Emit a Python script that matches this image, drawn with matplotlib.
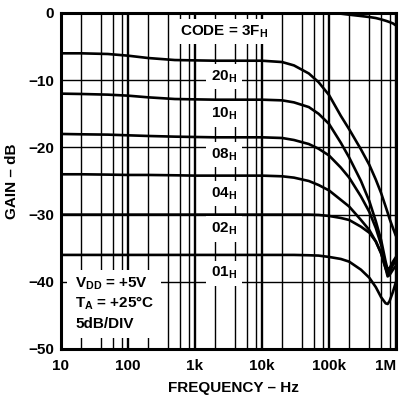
import matplotlib
matplotlib.use("Agg")
import matplotlib.pyplot as plt
from matplotlib.ticker import LogLocator, NullFormatter, FixedLocator
from matplotlib.patches import Rectangle

# ---------------- data ----------------
freq = [10, 20, 50, 100, 200, 500, 1e3, 2e3, 5e3, 1e4, 2e4, 3e4, 5e4, 7e4,
        1e5, 1.5e5, 2e5, 3e5, 4e5, 5e5, 6e5, 7e5, 7.5e5, 8e5, 9e5, 1e6]

gain_3F = [0, 0, 0, 0, 0, 0, 0, 0, 0, 0, 0, 0, 0, 0,
           0, -0.1, -0.25, -0.45, -0.6, -0.75, -0.95, -1.15, -1.25, -1.35, -1.55, -1.85]
gain_20 = [-6.0, -6.0, -6.1, -6.35, -6.7, -7.0, -7.05, -7.1, -7.1, -7.1, -7.3, -7.8, -9.0, -10.3,
           -12.2, -15.3, -17.3, -20.3, -22.6, -24.8, -26.8, -28.8, -29.7, -30.6, -32.0, -33.2]
gain_10 = [-12.0, -12.05, -12.15, -12.3, -12.55, -12.8, -12.85, -12.9, -12.9, -12.9, -13.0, -13.3, -14.0, -15.0,
           -16.5, -19.3, -21.5, -25.0, -28.0, -31.0, -33.8, -37.0, -38.2, -38.0, -37.0, -36.3]
gain_08 = [-18.0, -18.05, -18.1, -18.2, -18.3, -18.4, -18.45, -18.5, -18.5, -18.5, -18.6, -18.9, -19.5, -20.2,
           -21.2, -23.0, -24.5, -27.3, -29.6, -32.0, -34.5, -37.5, -38.5, -38.3, -37.3, -36.6]
gain_04 = [-24.0, -24.0, -24.05, -24.1, -24.1, -24.15, -24.2, -24.2, -24.2, -24.2, -24.3, -24.5, -25.0, -25.6,
           -26.4, -27.8, -28.8, -30.8, -32.3, -34.0, -35.8, -38.0, -38.8, -38.5, -37.5, -36.9]
gain_02 = [-30.0, -30.0, -30.0, -30.0, -30.0, -30.0, -30.0, -30.0, -30.0, -30.0, -30.0, -30.0, -30.0, -30.05,
           -30.2, -30.5, -30.8, -31.8, -32.7, -34.0, -35.7, -38.0, -39.2, -39.0, -38.2, -37.6]
gain_01 = [-36.0, -36.0, -36.0, -36.0, -36.0, -36.0, -36.0, -36.0, -36.0, -36.0, -36.0, -36.0, -36.05, -36.1,
           -36.3, -36.6, -37.0, -38.2, -39.4, -40.8, -42.3, -43.2, -43.3, -42.9, -41.5, -40.0]

series = [gain_3F, gain_20, gain_10, gain_08, gain_04, gain_02, gain_01]
code_labels = ["20", "10", "08", "04", "02", "01"]
code_label_y = [-10.0, -15.6, -21.6, -27.4, -32.7, -39.3]

x_ticks = [10, 100, 1e3, 1e4, 1e5, 1e6]
x_ticklabels = ["10", "100", "1k", "10k", "100k", "1M"]
y_ticks = [-50, -40, -30, -20, -10, 0]
y_ticklabels = ["\u221250", "\u221240", "\u221230", "\u221220", "\u221210", "0"]

# ---------------- style ----------------
FONT = "Liberation Sans"
plt.rcParams["font.family"] = [FONT, "DejaVu Sans"]
plt.rcParams["font.weight"] = "bold"
plt.rcParams["mathtext.fontset"] = "custom"
plt.rcParams["mathtext.rm"] = FONT + ":bold"
plt.rcParams["mathtext.bf"] = FONT + ":bold"
plt.rcParams["mathtext.it"] = FONT + ":bold"
FS = 11

W, H = 406, 397
fig = plt.figure(figsize=(W / 100, H / 100), dpi=100)
L, R, T, B = 61, 396, 13, 349
ax = fig.add_axes([L / W, 1 - B / H, (R - L) / W, (B - T) / H])

ax.set_xscale("log")
ax.set_xlim(10, 1e6)
ax.set_ylim(-50, 0)

# grid
ax.xaxis.set_major_locator(FixedLocator(x_ticks))
ax.xaxis.set_minor_locator(LogLocator(base=10, subs=[2, 4, 6, 8], numticks=20))
ax.xaxis.set_minor_formatter(NullFormatter())
ax.yaxis.set_major_locator(FixedLocator(y_ticks))
ax.grid(True, which="major", axis="x", color="black", lw=1.7, zorder=1)
ax.grid(True, which="minor", axis="x", color="black", lw=1.0, zorder=1)
ax.grid(True, which="major", axis="y", color="black", lw=1.0, zorder=1)
ax.set_axisbelow(True)

ax.set_xticks(x_ticks)
ax.set_xticklabels(x_ticklabels)
ax.set_yticks(y_ticks)
ax.set_yticklabels(y_ticklabels)
ax.tick_params(which="both", length=0)
ax.tick_params(axis="x", pad=7.0, labelsize=FS)
ax.tick_params(axis="y", pad=5.0, labelsize=FS)
for lab in ax.get_xticklabels() + ax.get_yticklabels():
    lab.set_fontweight("bold")
ax.get_xticklabels()[-1].set_horizontalalignment("right")

for s in ax.spines.values():
    s.set_linewidth(2.2)
    s.set_zorder(6)

# curves
for g in series:
    ax.plot(freq, g, color="black", lw=1.9, zorder=3, solid_capstyle="butt")

# labels with white boxes
box = dict(facecolor="white", edgecolor="none", boxstyle="square,pad=0.3")
lab_x = 2700
ax.text(lab_x, -3.3, r"CODE = 3F$_\mathrm{H}$", ha="center", va="baseline",
        fontsize=FS, fontweight="bold", bbox=box, zorder=4)
for c, yv in zip(code_labels, code_label_y):
    ax.text(lab_x, yv, c + r"$_\mathrm{H}$", ha="center", va="baseline",
            fontsize=FS, fontweight="bold", bbox=box, zorder=4)

# conditions box
def fx(px):
    return (px - L) / (R - L)

def fy(py):
    return (B - py) / (B - T)

ax.add_patch(Rectangle((fx(67), fy(338)), fx(161) - fx(67), fy(270) - fy(338),
                       transform=ax.transAxes, facecolor="white", edgecolor="none", zorder=2))
ax.text(fx(75), fy(288), r"V$_\mathrm{DD}$ = +5V", transform=ax.transAxes,
        ha="left", va="baseline", fontsize=FS, fontweight="bold", zorder=4)
ax.text(fx(75), fy(308), r"T$_\mathrm{A}$ = +25°C", transform=ax.transAxes,
        ha="left", va="baseline", fontsize=FS, fontweight="bold", zorder=4)
ax.text(fx(75), fy(328), "5dB/DIV", transform=ax.transAxes,
        ha="left", va="baseline", fontsize=FS, fontweight="bold", zorder=4)

# axis titles
fig.text(233.5 / W, 1 - 392 / H, "FREQUENCY \u2013 Hz", ha="center", va="baseline",
         fontsize=FS, fontweight="bold")
fig.text(12 / W, 1 - 181 / H, "GAIN \u2013 dB", ha="center", va="center", rotation=90,
         fontsize=FS, fontweight="bold")

fig.savefig("out.png", dpi=100)
